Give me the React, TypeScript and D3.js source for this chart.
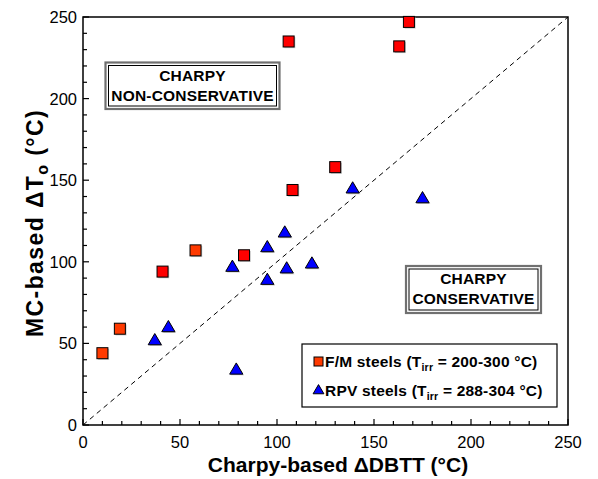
import React, { useEffect, useRef } from "react";
import * as d3 from "d3";

// F/M steels (two shades in the original plot)
const fmSteels: [number, number][] = [
  [41, 94], [83, 104], [108, 144], [130, 158], [106, 235], [163, 232], [168, 247],
];
const fmSteelsOrange: [number, number][] = [
  [10, 44], [19, 59], [58, 107],
];
// RPV steels
const rpvSteels: [number, number][] = [
  [37, 52], [44, 60], [79, 34], [77, 97], [95, 109], [95, 89],
  [104, 118], [105, 96], [118, 99], [139, 145], [175, 139],
];
const axisMax = 250;
const majorTicks = [0, 50, 100, 150, 200, 250];
const legendLabels = [
  { main: "F/M steels (T", sub: "irr", rest: " = 200-300 °C)" },
  { main: "RPV steels (T", sub: "irr", rest: " = 288-304 °C)" },
];

const FONT = "'Liberation Sans', Arial, Helvetica, sans-serif";

export default function App() {
  const ref = useRef<SVGSVGElement>(null);

  useEffect(() => {
    const svg = d3.select(ref.current);
    svg.selectAll("*").remove();

    const x = d3.scaleLinear().domain([0, axisMax]).range([83, 568]);
    const y = d3.scaleLinear().domain([0, axisMax]).range([425, 17]);
    const minorTicks = x.ticks(25);

    const tri = (cx: number, cy: number, h: number) =>
      `M${cx},${cy - h * 0.6}L${cx + h * 0.6},${cy + h * 0.42}L${cx - h * 0.6},${cy + h * 0.42}Z`;

    // dashed 1:1 line
    svg.append("line")
      .attr("x1", x(0)).attr("y1", y(0))
      .attr("x2", x(axisMax)).attr("y2", y(axisMax))
      .attr("stroke", "#000").attr("stroke-width", 1)
      .attr("stroke-dasharray", "5,4");

    // frame
    svg.append("rect")
      .attr("x", x(0)).attr("y", y(axisMax))
      .attr("width", x(axisMax) - x(0)).attr("height", y(0) - y(axisMax))
      .attr("fill", "none").attr("stroke", "#000").attr("stroke-width", 1.5);

    // ticks (inward)
    const tg = svg.append("g").attr("stroke", "#000").attr("stroke-width", 1.2);
    minorTicks.forEach(t => {
      const len = majorTicks.includes(t) ? 6 : 4;
      tg.append("line").attr("x1", x(t)).attr("x2", x(t)).attr("y1", y(0)).attr("y2", y(0) - len);
      tg.append("line").attr("x1", x(0)).attr("x2", x(0) + len).attr("y1", y(t)).attr("y2", y(t));
    });

    // tick labels
    svg.append("g").selectAll("text").data(majorTicks).join("text")
      .attr("x", d => x(d)).attr("y", 448)
      .attr("text-anchor", "middle")
      .attr("font-family", FONT).attr("font-size", 16.5)
      .text(d => d);
    svg.append("g").selectAll("text").data(majorTicks).join("text")
      .attr("x", 77).attr("y", d => y(d) + 6)
      .attr("text-anchor", "end")
      .attr("font-family", FONT).attr("font-size", 16.5)
      .text(d => d);

    // axis titles
    svg.append("text")
      .attr("x", 338).attr("y", 472)
      .attr("text-anchor", "middle")
      .attr("font-family", FONT).attr("font-size", 21).attr("font-weight", "bold")
      .text("Charpy-based \u0394DBTT (°C)");

    const yt = svg.append("text")
      .attr("transform", "translate(43,223) rotate(-90)")
      .attr("text-anchor", "middle")
      .attr("font-family", FONT).attr("font-size", 23).attr("font-weight", "bold")
      .attr("letter-spacing", 1.4);
    yt.append("tspan").text("MC-based \u0394T");
    yt.append("tspan").attr("font-size", 16).attr("dy", 5).text("o");
    yt.append("tspan").attr("dy", -5).text(" (°C)");

    // annotation boxes
    const box = (bx: number, by: number, bw: number, bh: number, lines: string[]) => {
      svg.append("rect").attr("x", bx).attr("y", by).attr("width", bw).attr("height", bh)
        .attr("fill", "#fff").attr("stroke", "#707070").attr("stroke-width", 2.2);
      svg.append("rect").attr("x", bx + 3).attr("y", by + 3).attr("width", bw - 6).attr("height", bh - 6)
        .attr("fill", "none").attr("stroke", "#000").attr("stroke-width", 1);
      lines.forEach((l, i) => {
        svg.append("text")
          .attr("x", bx + bw / 2).attr("y", by + 18 + i * 20)
          .attr("text-anchor", "middle")
          .attr("font-family", FONT).attr("font-size", 15.5).attr("font-weight", "bold")
          .attr("letter-spacing", 0.2)
          .text(l);
      });
    };
    box(105.5, 62.5, 174, 46.5, ["CHARPY", "NON-CONSERVATIVE"]);
    box(406, 266, 135, 47, ["CHARPY", "CONSERVATIVE"]);

    // markers
    const S = 11;
    const drawSquares = (data: [number, number][], fill: string) => {
      const g = svg.append("g");
      g.selectAll("rect.sh").data(data).join("rect")
        .attr("x", d => x(d[0]) - S / 2 + 1.2).attr("y", d => y(d[1]) - S / 2 + 1.2)
        .attr("width", S).attr("height", S).attr("fill", "#c8c8c8");
      g.selectAll("rect.pt").data(data).join("rect")
        .attr("x", d => x(d[0]) - S / 2).attr("y", d => y(d[1]) - S / 2)
        .attr("width", S).attr("height", S)
        .attr("fill", fill).attr("stroke", "#000").attr("stroke-width", 1);
    };
    drawSquares(fmSteels, "#ff0000");
    drawSquares(fmSteelsOrange, "#ff3a00");

    const tg2 = svg.append("g");
    tg2.selectAll("path.sh").data(rpvSteels).join("path")
      .attr("d", d => tri(x(d[0]) + 1.2, y(d[1]) + 1.2, 11))
      .attr("fill", "#c8c8c8");
    tg2.selectAll("path.pt").data(rpvSteels).join("path")
      .attr("d", d => tri(x(d[0]), y(d[1]), 11))
      .attr("fill", "#0000ff").attr("stroke", "#000").attr("stroke-width", 1);

    // legend
    svg.append("rect").attr("x", 302).attr("y", 344).attr("width", 255).attr("height", 63)
      .attr("fill", "#fff").attr("stroke", "#000").attr("stroke-width", 1.2);
    svg.append("rect").attr("x", 314).attr("y", 357).attr("width", 9).attr("height", 9)
      .attr("fill", "#ff3a00").attr("stroke", "#000").attr("stroke-width", 1);
    svg.append("path").attr("d", tri(318.5, 390, 9))
      .attr("fill", "#0000ff").attr("stroke", "#000").attr("stroke-width", 1);
    legendLabels.forEach((lab, i) => {
      const t = svg.append("text")
        .attr("x", 325).attr("y", 367 + i * 29)
        .attr("font-family", FONT).attr("font-size", 15.5).attr("font-weight", "bold")
        .attr("letter-spacing", 0.2);
      t.append("tspan").text(lab.main);
      t.append("tspan").attr("font-size", 10.5).attr("dy", 4).text(lab.sub);
      t.append("tspan").attr("dy", -4).text(lab.rest);
    });
  }, []);

  return (
    <svg
      ref={ref}
      width={598}
      height={479}
      style={{ position: "absolute", left: 0, top: 0, background: "#fff" }}
    />
  );
}
